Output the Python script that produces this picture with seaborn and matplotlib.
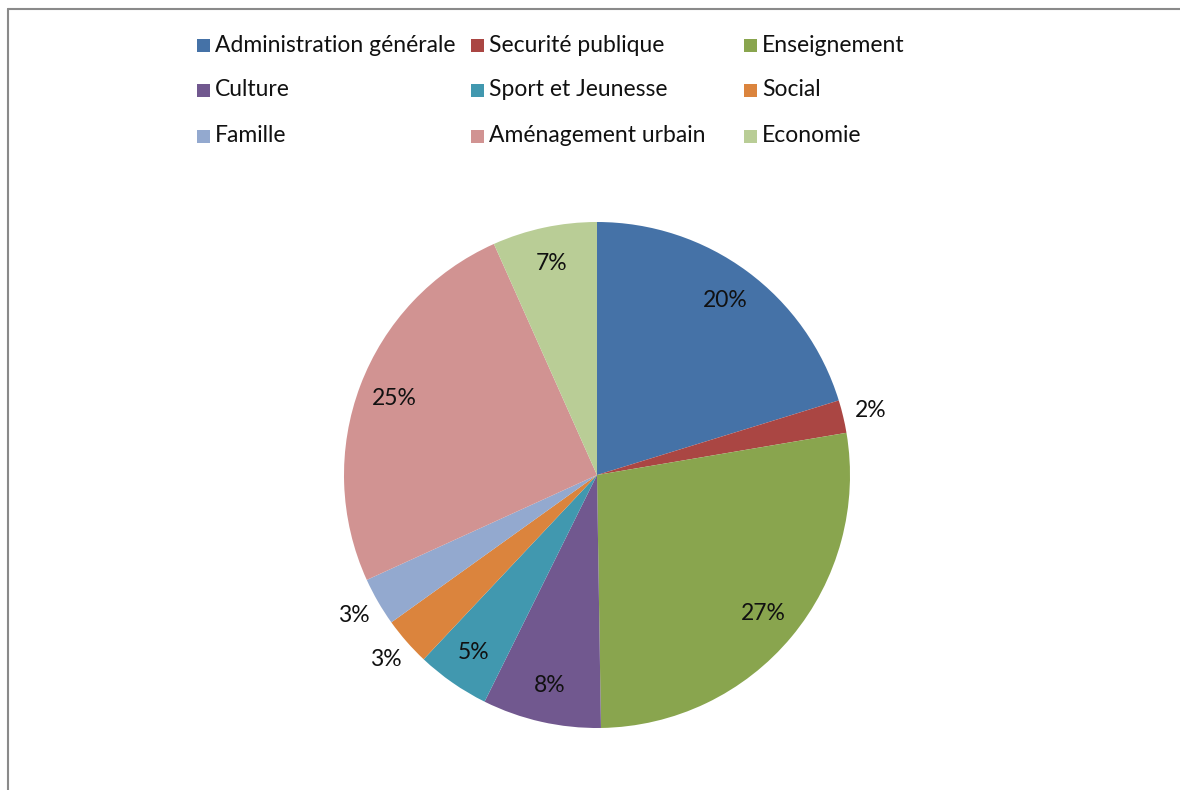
import numpy as np
import matplotlib
matplotlib.use("Agg")
import matplotlib.pyplot as plt
from matplotlib.patches import Rectangle
from matplotlib.lines import Line2D
import seaborn as sns

categories = ["Administration générale", "Securité publique", "Enseignement",
              "Culture", "Sport et Jeunesse", "Social",
              "Famille", "Aménagement urbain", "Economie"]
values = [20.3, 2.1, 27.5, 7.6, 4.7, 3.1, 3.1, 25.2, 6.7]
colors = ["#4572A7", "#AA4643", "#89A54E", "#71588F", "#4198AF",
          "#DB843D", "#93A9CF", "#D19392", "#B9CD96"]
outside = [False, True, False, False, False, True, True, False, False]

sns.set_theme(style="white")
plt.rcParams["font.family"] = ["Lato", "DejaVu Sans"]

W, H = 1180, 790
fig = plt.figure(figsize=(W / 100, H / 100), dpi=100)
fig.patch.set_facecolor("white")

# pie axes: center (597, 475) px, radius 253 px
cx, cy, R, half = 597, 475, 253, 300
ax = fig.add_axes([(cx - half) / W, (H - cy - half) / H, 2 * half / W, 2 * half / H])

wedges, _ = ax.pie(values, colors=sns.color_palette(colors), startangle=90,
                   counterclock=False, radius=1,
                   wedgeprops=dict(linewidth=0))
lim = half / R
ax.set_xlim(-lim, lim)
ax.set_ylim(-lim, lim)
ax.set_axis_off()

total = sum(values)
for w, v, out in zip(wedges, values, outside):
    ang = np.deg2rad((w.theta1 + w.theta2) / 2)
    r = 1.11 if out else 0.855
    ax.text(r * np.cos(ang), r * np.sin(ang), f"{round(v / total * 100):.0f}%",
            ha="center", va="center", fontsize=16.5, color="#111111")

# legend laid out in 3 columns like the original
col_x = [197, 471, 744]
row_y = [45, 90, 136]
sq = 13
for i, (name, c) in enumerate(zip(categories, colors)):
    r, k = divmod(i, 3)
    x, y = col_x[k], row_y[r]
    fig.add_artist(Rectangle((x / W, (H - y - sq / 2) / H), sq / W, sq / H,
                             transform=fig.transFigure, facecolor=c,
                             edgecolor="none"))
    fig.text((x + sq + 5) / W, (H - y) / H, name, ha="left", va="center",
             fontsize=16.5, color="#111111")

# frame lines (top and left)
fig.add_artist(Line2D([7.5 / W, 1.0], [1 - 8.5 / H, 1 - 8.5 / H],
                      transform=fig.transFigure, color="#8a8a8a", lw=1.5))
fig.add_artist(Line2D([7.5 / W, 7.5 / W], [0, 1 - 8.5 / H],
                      transform=fig.transFigure, color="#8a8a8a", lw=1.5))

fig.savefig("out.png", dpi=100, facecolor="white")
